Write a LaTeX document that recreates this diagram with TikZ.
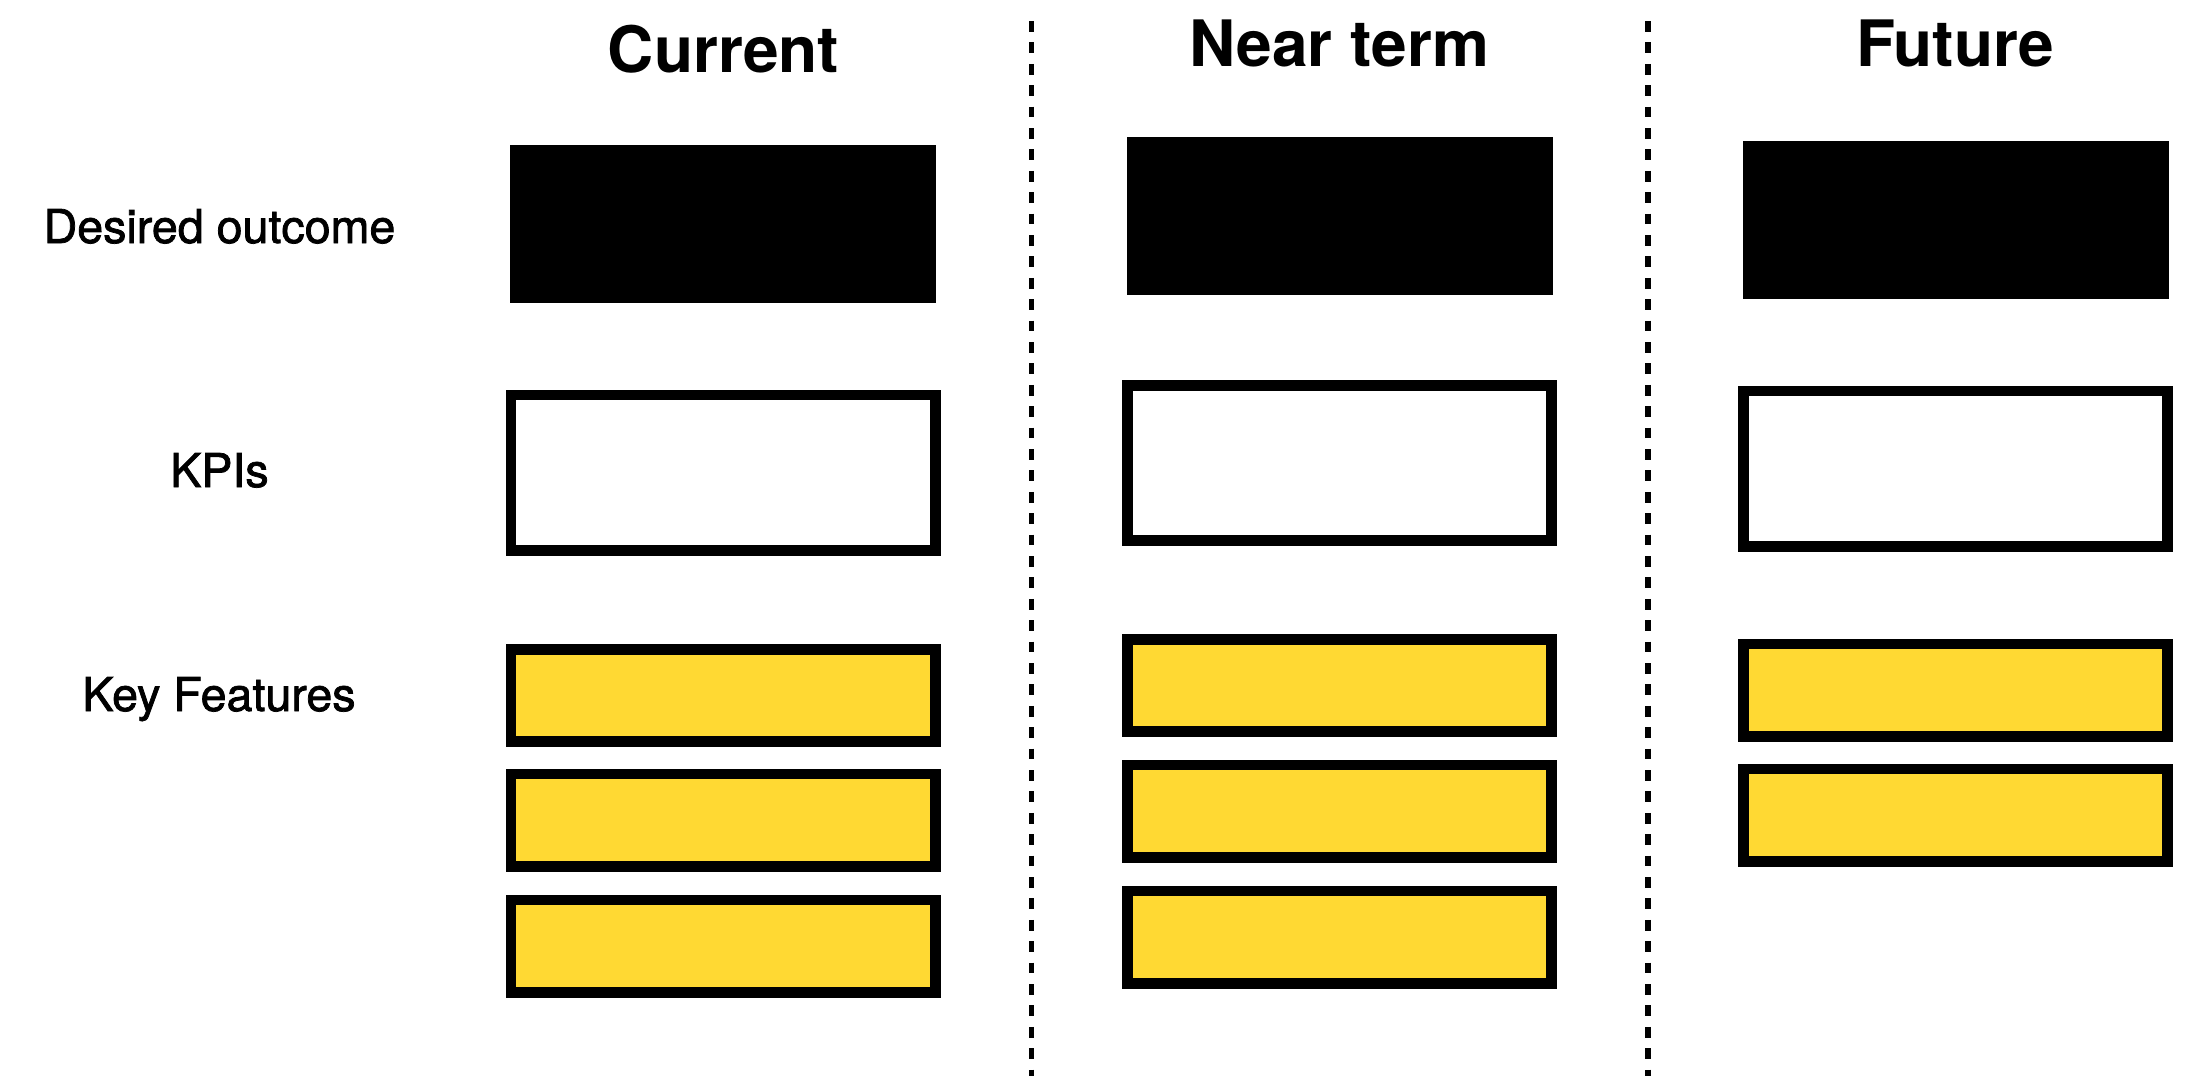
\documentclass[tikz,border=0pt]{standalone}
\usepackage{fontspec}
\setmainfont{TeX Gyre Heros}
\newfontfamily\medfont{TeX Gyre Heros}[FakeBold=1.6]
\definecolor{featyellow}{RGB}{255,217,51}
\begin{document}
\begin{tikzpicture}[x=0.5pt,y=-0.5pt,
  outcomebox/.style={fill=black,draw=none,inner sep=0pt,minimum width=213pt,minimum height=79pt},
  kpibox/.style={draw=black,line width=5.35pt,fill=white,inner sep=0pt,minimum width=212.15pt,minimum height=77.65pt},
  featbox/.style={draw=black,line width=5.35pt,fill=featyellow,inner sep=0pt,minimum width=212.15pt,minimum height=46.15pt},
  coltitle/.style={font=\fontsize{32}{36}\selectfont\bfseries,anchor=base,inner sep=0pt},
  rowlabel/.style={font=\medfont\fontsize{23.3}{27}\selectfont,anchor=base,inner sep=0pt},
  divider/.style={line width=2.6pt,dash pattern=on 5.35pt off 5.35pt}]
\useasboundingbox[fill=white] (0,0) rectangle (2193,1076);

% column titles
\node[coltitle] (tcur) at (723.5,72) {Current};
\node[coltitle] (tnear) at (1339,66) {Near term};
\node[coltitle] (tfut) at (1955,66) {Future};

% row labels
\node[rowlabel] (ldes) at (219.5,243) {Desired outcome};
\node[rowlabel] (lkpi) at (219.5,487) {KPIs};
\node[rowlabel] (lkey) at (219,711) {Key Features};

% dividers
\coordinate (d1top) at (1031.5,21);
\coordinate (d1bot) at (1031.5,1076);
\coordinate (d2top) at (1648,21);
\coordinate (d2bot) at (1648,1076);
\draw[divider] (d1top) -- (d1bot);
\draw[divider] (d2top) -- (d2bot);

% Current column
\node[outcomebox] (cout) at (723,224) {};
\node[kpibox] (ckpi) at (723,472.5) {};
\node[featbox] (cf1) at (723,695.5) {};
\node[featbox] (cf2) at (723,820) {};
\node[featbox] (cf3) at (723,946) {};

% Near term column
\node[outcomebox] (nout) at (1339.5,215.5) {};
\node[kpibox] (nkpi) at (1339.5,463) {};
\node[featbox] (nf1) at (1339.5,685.5) {};
\node[featbox] (nf2) at (1339.5,811) {};
\node[featbox] (nf3) at (1339.5,937) {};

% Future column
\node[outcomebox] (fout) at (1955.5,220) {};
\node[kpibox] (fkpi) at (1955.5,468.5) {};
\node[featbox] (ff1) at (1955.5,690) {};
\node[featbox] (ff2) at (1955.5,815) {};
\end{tikzpicture}
\end{document}
